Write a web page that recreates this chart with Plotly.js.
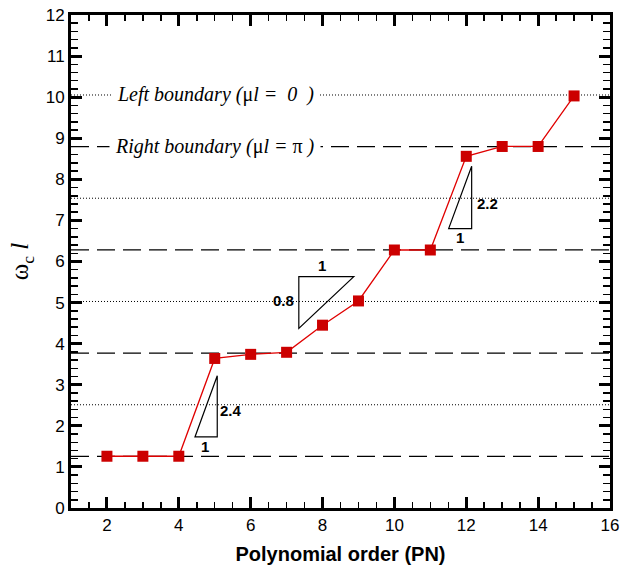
<!DOCTYPE html>
<html>
<head>
<meta charset="utf-8">
<script src="https://cdn.plot.ly/plotly-3.0.1.min.js"></script>
<style>
  html, body { margin: 0; padding: 0; background: #fff; }
  #chart { width: 622px; height: 574px; }
</style>
</head>
<body>
<div id="chart"></div>
<script>
// Cut-off frequency vs polynomial order
const order = [2, 3, 4, 5, 6, 7, 8, 9, 10, 11, 12, 13, 14, 15];
const omegaL = [1.26, 1.26, 1.26, 3.64, 3.74, 3.79, 4.45, 5.04, 6.28, 6.28, 8.56, 8.80, 8.80, 10.03];

// Reference levels: left boundary (dotted) and right boundary (dashed)
const leftLevels = [2.513, 5.027, 7.540, 10.053];
const rightLevels = [1.257, 3.770, 6.283, 8.796];
const xSpan = [1, 16];

// Slope triangles: [x0, y0, x1, y1, x2, y2]
const triA = [4.45, 1.73, 5.07, 1.73, 5.07, 3.22];
const triB = [7.34, 4.37, 7.34, 5.63, 8.87, 5.63];
const triC = [11.51, 6.80, 12.15, 6.80, 12.15, 8.32];
// Slope labels: [x, y, text]
const slopeLabels = [
  [5.45, 2.38, '2.4'], [4.73, 1.50, '1'],
  [7.98, 5.90, '1'], [6.90, 5.05, '0.8'],
  [12.58, 7.40, '2.2'], [11.82, 6.58, '1']
];

const traces = [];
leftLevels.forEach(v => traces.push({
  x: xSpan, y: [v, v], mode: 'lines', hoverinfo: 'skip', showlegend: false,
  line: { color: '#000', width: 1, dash: '1px,2px' }
}));
rightLevels.forEach(v => traces.push({
  x: xSpan, y: [v, v], mode: 'lines', hoverinfo: 'skip', showlegend: false,
  line: { color: '#000', width: 1.2, dash: '18px,8px' }
}));
traces.push({
  x: order, y: omegaL, mode: 'lines+markers', showlegend: false,
  line: { color: '#e00000', width: 1.3 },
  marker: { symbol: 'square', size: 11, color: '#cc0000', line: { width: 0 } }
});

function triPath(t) {
  return `M ${t[0]} ${t[1]} L ${t[2]} ${t[3]} L ${t[4]} ${t[5]} Z`;
}
const shapes = [triA, triB, triC].map(t => ({
  type: 'path', xref: 'x', yref: 'y', path: triPath(t),
  line: { color: '#000', width: 1.2 }, fillcolor: 'rgba(0,0,0,0)'
}));

const serif = 'Liberation Serif, Times New Roman, serif';
const sans = 'Liberation Sans, Arial, sans-serif';

const annotations = slopeLabels.map(s => ({
  x: s[0], y: s[1], text: s[2], showarrow: false, xref: 'x', yref: 'y',
  font: { family: sans, size: 15, color: '#000', weight: 'bold' }
}));
annotations.push({
  x: 5.01, y: leftLevels[3], xref: 'x', yref: 'y', showarrow: false,
  text: '<i>Left boundary (</i>μ<i>l =  0  )</i>',
  font: { family: serif, size: 20, color: '#000' },
  bgcolor: '#fff', borderpad: 5
});
annotations.push({
  x: 5.02, y: rightLevels[3], xref: 'x', yref: 'y', showarrow: false,
  text: '<i>Right boundary (</i>μ<i>l = </i>π<i> )</i>',
  font: { family: serif, size: 20, color: '#000' },
  bgcolor: '#fff', borderpad: 5
});

const axisCommon = {
  showline: true, linewidth: 3, linecolor: '#000', mirror: 'allticks',
  ticks: 'inside', ticklen: 11, tickwidth: 3, tickcolor: '#000',
  showgrid: false, zeroline: false,
  tickfont: { family: sans, size: 17, color: '#000' }
};

const layout = {
  width: 622, height: 574,
  margin: { l: 71, r: 12, t: 15, b: 66 },
  paper_bgcolor: '#fff', plot_bgcolor: '#fff',
  xaxis: Object.assign({}, axisCommon, {
    range: [1, 16], tick0: 2, dtick: 2,
    minor: { ticks: 'inside', ticklen: 6, tickwidth: 1.5, tickcolor: '#000', dtick: 0.5, tick0: 1 },
    title: { text: '<b>Polynomial order (PN)</b>', font: { family: sans, size: 20, color: '#000' }, standoff: 13 }
  }),
  yaxis: Object.assign({}, axisCommon, {
    range: [0, 12], tick0: 0, dtick: 1,
    minor: { ticks: 'inside', ticklen: 7, tickwidth: 1.5, tickcolor: '#000', dtick: 0.2, tick0: 0 },
    title: { text: 'ω<sub>c</sub> <i>l</i>', font: { family: serif, size: 25, color: '#000' }, standoff: 10 }
  }),
  shapes: shapes,
  annotations: annotations
};

Plotly.newPlot('chart', traces, layout, { displayModeBar: false, staticPlot: true });
</script>
</body>
</html>
